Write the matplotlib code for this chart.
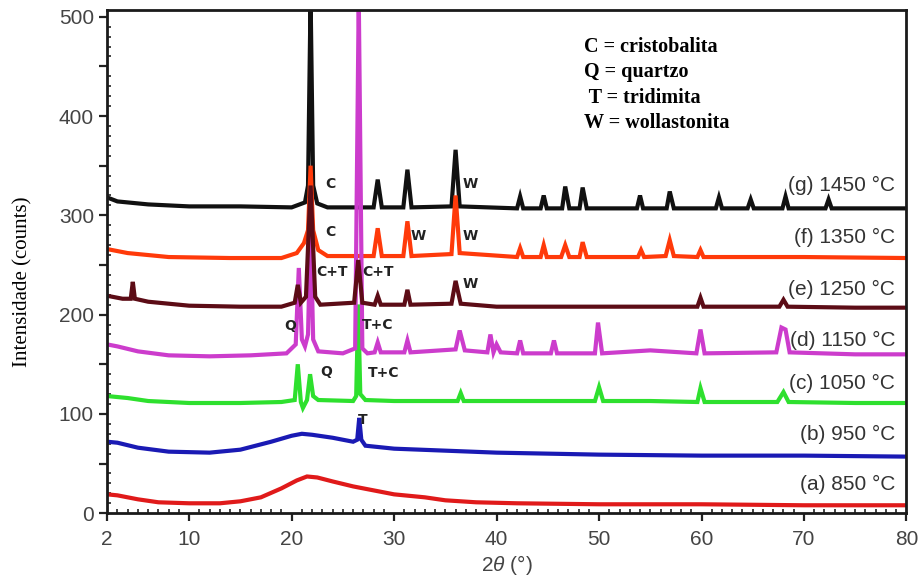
import matplotlib
matplotlib.use("Agg")
from matplotlib import pyplot as plt
from matplotlib.ticker import MultipleLocator, FixedLocator, FuncFormatter

plt.rcParams["mathtext.fontset"] = "custom"
plt.rcParams["mathtext.it"] = "Liberation Sans:italic"
plt.rcParams["mathtext.rm"] = "Liberation Sans"

# (2theta, counts) key points
TRACE_850 = [(2, 19), (3, 18), (5, 14), (7, 11), (10, 10), (13, 10), (15, 12), (17, 16), (19, 25),
             (20.5, 33), (21.5, 37), (22.5, 36), (24, 32), (26, 27), (28, 23), (30, 19), (33, 16),
             (35, 13), (38, 11), (42, 10), (50, 9), (60, 9), (70, 8), (80, 8)]
TRACE_950 = [(2, 72), (3, 71), (5, 66), (8, 62), (12, 61), (15, 64), (18, 72), (20, 78), (21, 80),
             (22, 79), (24, 76), (26, 72), (26.4, 74), (26.6, 96), (26.8, 74), (27.2, 68), (30, 65),
             (35, 63), (40, 61), (50, 59), (60, 58), (70, 58), (80, 57)]
TRACE_1050 = [(2, 118), (4, 116), (6, 113), (10, 111), (15, 111), (19, 112), (20.3, 114), (20.6, 150),
              (20.9, 112), (21.1, 106), (21.5, 114), (21.8, 140), (22.1, 118), (22.6, 114), (26, 113),
              (26.3, 118), (26.5, 210), (26.7, 120), (27.2, 114), (30, 113), (36.2, 113), (36.5, 121),
              (36.8, 113), (40, 113), (49.6, 113), (50, 127), (50.4, 113), (55, 113), (59.6, 112),
              (59.9, 126), (60.3, 112), (67.4, 112), (68, 122), (68.5, 112), (75, 111), (80, 111)]
TRACE_1150 = [(2, 170), (3, 168), (5, 163), (8, 159), (12, 158), (16, 159), (19.5, 161), (20.4, 170),
              (20.7, 247), (21.0, 175), (21.3, 168), (21.6, 180), (21.85, 290), (22.1, 175), (22.6, 163),
              (25, 161), (26.2, 166), (26.55, 520), (26.9, 166), (27.4, 161), (28.1, 162), (28.4, 172),
              (28.7, 162), (31.0, 162), (31.3, 174), (31.6, 162), (36.0, 165), (36.4, 184), (36.9, 164),
              (39.1, 162), (39.4, 180), (39.7, 162), (40.0, 170), (40.4, 162), (42.0, 161), (42.3, 174),
              (42.6, 161), (45.3, 161), (45.6, 174), (45.9, 161), (49.6, 161), (49.9, 192), (50.3, 161),
              (55, 164), (59.5, 161), (59.9, 185), (60.3, 161), (67.3, 162), (67.8, 187), (68.2, 185),
              (68.6, 162), (75, 160), (80, 160)]
TRACE_1250 = [(2, 219), (3.5, 216), (4.3, 216), (4.5, 233), (4.7, 216), (6, 213), (10, 209), (15, 208),
              (19, 208), (20.3, 212), (20.6, 230), (20.9, 212), (21.4, 218), (21.85, 330), (22.3, 218),
              (22.8, 210), (26.1, 212), (26.5, 255), (26.9, 212), (28.1, 210), (28.4, 219), (28.7, 210),
              (31.0, 210), (31.3, 225), (31.6, 210), (35.6, 211), (36.0, 234), (36.5, 211), (40, 208),
              (50, 208), (59.6, 208), (59.9, 217), (60.2, 208), (67.6, 208), (68, 215), (68.4, 208),
              (75, 207), (80, 207)]
TRACE_1350 = [(2, 266), (4, 262), (8, 258), (14, 257), (19, 257), (20.5, 262), (21.2, 272), (21.6, 285),
              (21.85, 350), (22.1, 285), (22.6, 265), (23.5, 259), (28.0, 259), (28.4, 287), (28.8, 259),
              (30.9, 259), (31.3, 294), (31.7, 259), (35.6, 261), (36.0, 320), (36.4, 262), (42.0, 258),
              (42.3, 267), (42.6, 258), (44.3, 258), (44.6, 270), (44.9, 258), (46.3, 258), (46.7, 270),
              (47.1, 258), (48.1, 258), (48.4, 273), (48.8, 258), (53.8, 258), (54.1, 265), (54.4, 258),
              (56.5, 259), (56.9, 275), (57.3, 259), (59.6, 258), (59.9, 265), (60.2, 258), (70, 258),
              (80, 257)]
TRACE_1450 = [(2, 318), (3, 314), (6, 311), (10, 309), (15, 309), (20, 308), (21.3, 313), (21.6, 330),
              (21.85, 520), (22.1, 330), (22.5, 312), (23.5, 308), (28.0, 308), (28.4, 336), (28.8, 308),
              (30.9, 308), (31.3, 346), (31.7, 308), (35.6, 309), (36.0, 366), (36.4, 309), (42.0, 307),
              (42.3, 319), (42.6, 307), (44.3, 307), (44.6, 320), (44.9, 307), (46.4, 307), (46.7, 329),
              (47.1, 307), (48.1, 307), (48.4, 328), (48.8, 307), (53.7, 307), (54.0, 320), (54.3, 307),
              (56.6, 307), (56.9, 324), (57.3, 307), (61.4, 307), (61.7, 318), (62.0, 307), (64.5, 307),
              (64.8, 316), (65.1, 307), (67.9, 307), (68.2, 319), (68.5, 307), (72.1, 307), (72.4, 316),
              (72.7, 307), (80, 307)]

# draw order matters where peaks overlap
TRACES = [TRACE_850, TRACE_950, TRACE_1050, TRACE_1450, TRACE_1350, TRACE_1150, TRACE_1250]
COLORS = ["#e01a1a", "#1a1ab4", "#2ee02e", "#111111", "#ff3a0a", "#cc3ccc", "#5c0c16"]

SAMPLE_LABELS = ["(a) 850 °C", "(b) 950 °C", "(c) 1050 °C", "(d) 1150 °C",
                 "(e) 1250 °C", "(f) 1350 °C", "(g) 1450 °C"]
SAMPLE_LABEL_Y = [29, 79, 131, 174, 225, 278, 330]

PEAK_TAGS = ["C", "W", "C", "W", "W", "C+T", "C+T", "W", "Q", "T+C", "Q", "T+C", "T"]
PEAK_TAG_X = [23.3, 36.7, 23.3, 31.6, 36.7, 22.4, 26.9, 36.7, 19.3, 26.9, 22.8, 27.4, 26.5]
PEAK_TAG_Y = [332, 332, 283, 279, 279, 243, 243, 231, 189, 190, 142, 141, 94]

PHASE_KEY = ["C = cristobalita", "Q = quartzo", " T = tridimita", "W = wollastonita"]

fig = plt.figure(figsize=(9.24, 5.76), dpi=100)
ax = fig.add_axes([0.116, 0.109, 0.865, 0.874])

for trace, color in zip(TRACES, COLORS):
    xs = [p[0] for p in trace]
    ys = [p[1] for p in trace]
    ax.plot(xs, ys, color=color, lw=3, solid_joinstyle="miter")

for text, y in zip(SAMPLE_LABELS, SAMPLE_LABEL_Y):
    ax.text(78.9, y, text, ha="right", va="center", fontsize=15,
            family="Liberation Sans", color="#333333")

for text, x, y in zip(PEAK_TAGS, PEAK_TAG_X, PEAK_TAG_Y):
    ax.text(x, y, text, ha="left", va="center", fontsize=10, fontweight="bold",
            family="DejaVu Sans", color="#222222")

for i, text in enumerate(PHASE_KEY):
    ax.text(0.596, 0.926 - i * 0.0505, text, transform=ax.transAxes, ha="left", va="center",
            fontsize=14.5, fontweight="bold", family="Liberation Serif", color="black")

ax.set_xlim(2, 80)
ax.set_ylim(0, 507)
ax.xaxis.set_major_locator(FixedLocator([2, 10, 20, 30, 40, 50, 60, 70, 80]))
ax.xaxis.set_minor_locator(MultipleLocator(1))
ax.yaxis.set_major_locator(MultipleLocator(50))
ax.yaxis.set_major_formatter(FuncFormatter(lambda v, p: "%d" % v if v % 100 == 0 else ""))
ax.yaxis.set_minor_locator(MultipleLocator(10))
ax.tick_params(which="major", direction="out", length=6, width=1.6, color="#222222",
               labelsize=15, labelcolor="#444444")
ax.tick_params(axis="x", which="major", pad=6)
ax.tick_params(which="minor", direction="in", length=3, width=1.2, color="#222222")
for lab in ax.get_xticklabels() + ax.get_yticklabels():
    lab.set_family("Liberation Sans")
for s in ax.spines.values():
    s.set_linewidth(2)
    s.set_color("#1a1a1a")

ax.set_xlabel(r"2$\it{\theta}$ (°)", fontsize=15, family="Liberation Sans", color="#444444", labelpad=3)
ax.set_ylabel("Intensidade (counts)", fontsize=15, family="Liberation Serif", color="black")
ax.yaxis.set_label_coords(-0.094, 0.46)

fig.savefig("out.png", dpi=100)
